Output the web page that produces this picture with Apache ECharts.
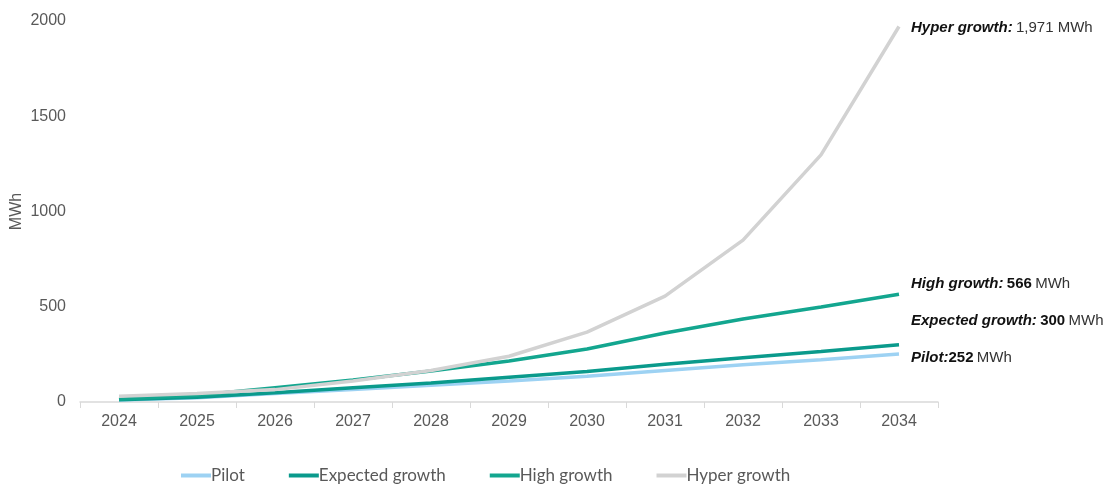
<!DOCTYPE html>
<html><head><meta charset="utf-8">
<script src="https://cdn.jsdelivr.net/npm/echarts@6/dist/echarts.min.js"></script>
<style>html,body{margin:0;padding:0;background:#fff}#c{width:1112px;height:486px}</style>
</head><body><div id="c"></div>
<script>
const years = ['2024','2025','2026','2027','2028','2029','2030','2031','2032','2033','2034'];
const pilot = [10, 22, 45, 65, 88, 110, 135, 165, 195, 222, 252];
const expected = [12, 25, 48, 75, 100, 130, 160, 198, 232, 265, 300];
const high = [15, 35, 75, 115, 163, 215, 278, 362, 436, 499, 566];
const hyper = [30, 45, 65, 110, 165, 240, 367, 556, 850, 1297, 1971];

const names = ['Pilot','Expected growth','High growth','Hyper growth'];
const colors = ['#9DD2F3','#0A9A8C','#13A68F','#D2D2D2'];
const rich = {
  bi:{fontFamily:'Liberation Sans',fontSize:15,fontWeight:'bold',fontStyle:'italic',color:'#111'},
  b:{fontFamily:'Liberation Sans',fontSize:15,fontWeight:'bold',color:'#111'},
  n:{fontFamily:'Liberation Sans',fontSize:15,color:'#333'}
};
const labels = [
  {t:'{bi|Pilot:}{b|252} {n|MWh}', off:[0,4]},
  {t:'{bi|Expected growth:} {b|300} {n|MWh}', off:[0,-24]},
  {t:'{bi|High growth:} {b|566} {n|MWh}', off:[0,-10]},
  {t:'{bi|Hyper growth:} {n|1,971 MWh}', off:[0,1]}
];
const dataSets = [pilot, expected, high, hyper];
const series = dataSets.map((d,i)=>({
  name:names[i], type:'line', data:d, symbol:'none', smooth:false,
  lineStyle:{width:3.5,color:colors[i]}, itemStyle:{color:colors[i]},
  endLabel:{show:true, distance:12, offset:labels[i].off, formatter:labels[i].t, rich:rich},
  z: 2+i
}));
const chart = echarts.init(document.getElementById('c'));
chart.setOption({
  animation:false,
  grid:{left:80,right:174,top:21,bottom:84,outerBoundsMode:'none',containLabel:false},
  legend:{top:462,left:176,itemGap:44,icon:'rect',itemWidth:30,itemHeight:4,
    textStyle:{fontFamily:'Lato',fontSize:17,color:'#595959',padding:[0,0,0,-5]}, data:names},
  xAxis:{type:'category',data:years,boundaryGap:true,
    axisLine:{lineStyle:{color:'#D9D9D9',width:1.5}},
    axisTick:{show:true,length:6,lineStyle:{color:'#D9D9D9'}},
    axisLabel:{fontFamily:'Liberation Sans',fontSize:16,color:'#595959',margin:12}},
  yAxis:{type:'value',min:0,max:2000,interval:500,name:'MWh',nameLocation:'middle',nameGap:55,
    nameMoveOverlap:false,
    nameTextStyle:{fontFamily:'Liberation Sans',fontSize:16,color:'#595959'},
    axisLine:{show:false},axisTick:{show:false},splitLine:{show:false},
    axisLabel:{fontFamily:'Liberation Sans',fontSize:16,color:'#595959',margin:14,formatter:v=>String(v)}},
  series:series
});
</script></body></html>
